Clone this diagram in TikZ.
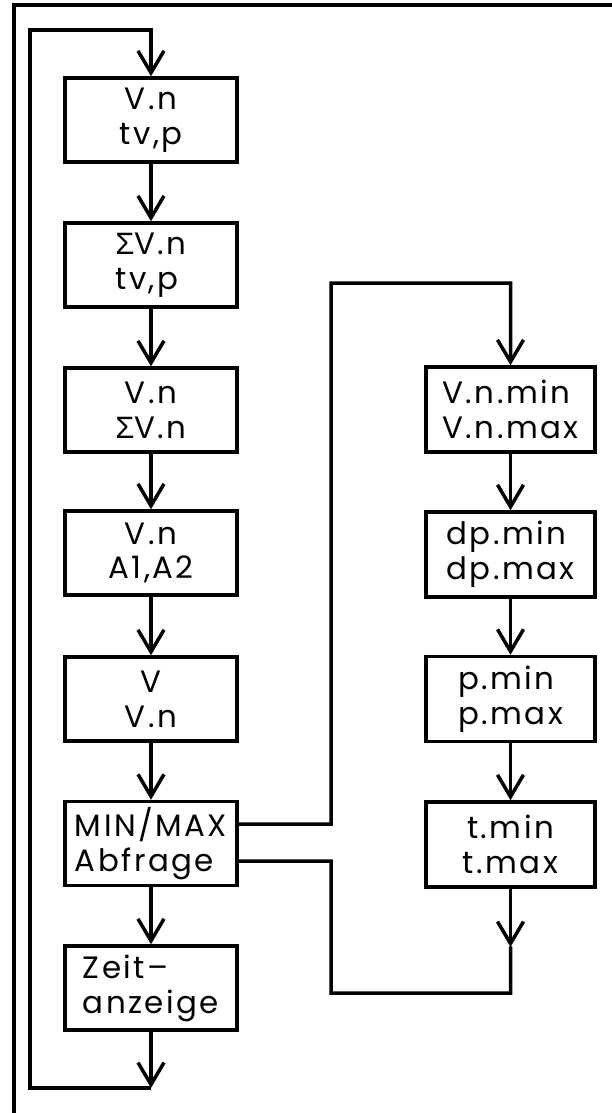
\documentclass[tikz,border=0pt]{standalone}
\usepackage{fontspec}
\usetikzlibrary{arrows.meta}
\newfontfamily\cadfont{Poppins}[LetterSpace=8]
\newfontfamily\sigmafont{Liberation Sans}
\newcommand{\Sg}{{\sigmafont Σ}}
\tikzset{
  box/.style={draw, line width=3.5bp, minimum width=172bp, minimum height=84bp, inner sep=0pt,
    font=\cadfont\fontsize{31}{35}\selectfont, align=center},
  rbox/.style={box, minimum width=169bp, minimum height=85bp},
  flow/.style={line width=3.5bp, -{Straight Barb[length=22bp,width=26bp,line width=3.5bp]}},
  wire/.style={line width=3.5bp, line cap=round},
  frame/.style={line width=3.5bp}
}
\begin{document}
\begin{tikzpicture}[x=1bp,y=-1bp]
\useasboundingbox (0,0) rectangle (612,1113);
\draw[frame] (14,1113) -- (14,5) -- (612,5);
% left column
\node[box] (b1) at (151,120) {V.n\\tv,p};
\node[box, align=left] (b2) at (151,265) {\Sg V.n\\tv,p};
\node[box] (b3) at (151,410) {V.n\\\Sg V.n};
\node[box] (b4) at (151,553) {V.n\\A1,A2};
\node[box] (b5) at (151,699) {V\\V.n};
\node[box, align=left] (b6) at (151,843.5) {MIN/MAX\\Abfrage};
\node[box, align=left] (b7) at (151,988) {Zeit–\\anzeige};
% right column
\node[rbox, align=left] (r1) at (510.5,409.5) {V.n.min\\V.n.max};
\node[rbox, align=left] (r2) at (510.5,554.5) {dp.min\\dp.max};
\node[rbox, align=left] (r3) at (510.5,699) {p.min\\p.max};
\node[rbox] (r4) at (510.5,844.5) {t.min\\t.max};
% coordinates
\coordinate (lb) at (151,1088);
\coordinate (lbl) at (30,1088);
\coordinate (ltl) at (30,30);
\coordinate (lt) at (151,30);
\coordinate (o1) at ([yshift=19.5bp]b6.east);
\coordinate (o1a) at (331,824);
\coordinate (o1b) at (331,283);
\coordinate (o1c) at (510.5,283);
\coordinate (o2) at ([yshift=-17.5bp]b6.east);
\coordinate (o2a) at (331,861);
\coordinate (o2b) at (331,993);
\coordinate (o2c) at (510.5,993);
\coordinate (r4tip) at (510.5,947);
% flows
\draw[flow] (b1) -- (b2);
\draw[flow] (b2) -- (b3);
\draw[flow] (b3) -- (b4);
\draw[flow] (b4) -- (b5);
\draw[flow] (b5) -- (b6);
\draw[flow] (b6) -- (b7);
\draw[flow] (b7) -- (lb);
\draw[flow] (lb) -- (lbl) -- (ltl) -- (lt) -- (b1);
\draw[flow] (o1) -- (o1a) -- (o1b) -- (o1c) -- (r1);
\draw[flow] (r1) -- (r2);
\draw[flow] (r2) -- (r3);
\draw[flow] (r3) -- (r4);
\draw[flow] (r4) -- (r4tip);
\draw[wire] (r4tip) -- (o2c) -- (o2b) -- (o2a) -- (o2);
\end{tikzpicture}
\end{document}
